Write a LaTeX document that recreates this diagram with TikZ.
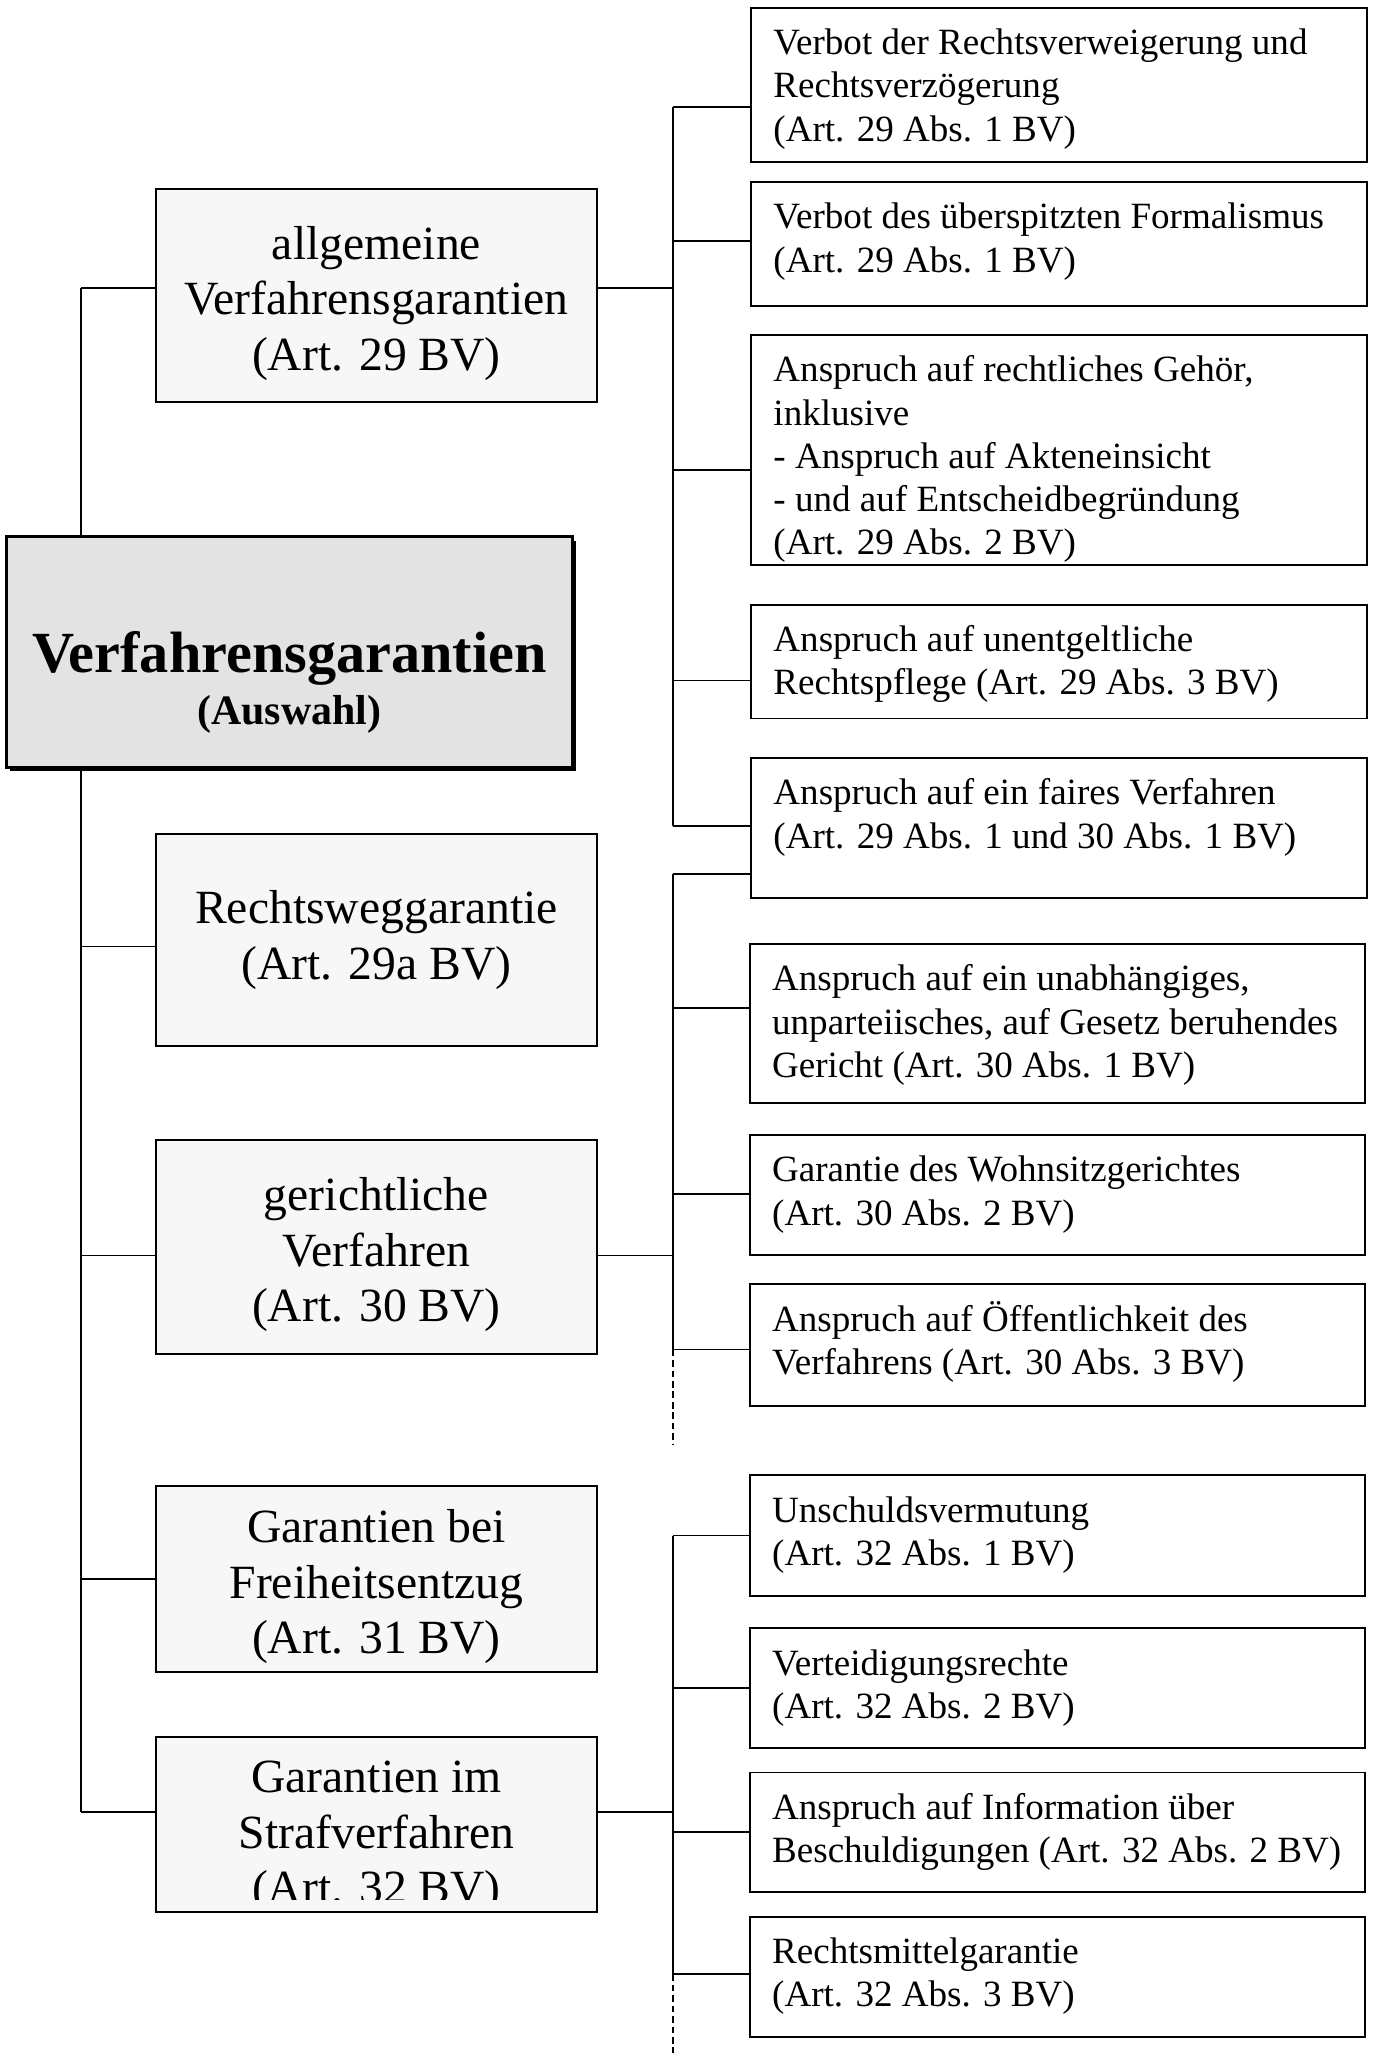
\documentclass[tikz,border=0pt]{standalone}
\usepackage{fontspec}
\setmainfont{Liberation Serif}
\usetikzlibrary{shadows}

\newcommand{\leaftext}[2]{\parbox[t][#1pt][t]{436pt}{\raggedright\rule{0pt}{36pt}#2}}

\tikzset{
  mainbox/.style={draw, line width=2.2pt, fill=black!11, inner sep=0pt,
    drop shadow={shadow xshift=3pt, shadow yshift=-3pt, opacity=1, fill=black}},
  midbox/.style={draw, line width=1.5pt, fill=black!3, inner sep=0pt, align=center,
    minimum width=337pt, font=\fontsize{36.4}{42.3}\selectfont},
  leafbox/.style={draw, line width=1.5pt, anchor=north west, inner xsep=17pt, inner ysep=0pt,
    font=\fontsize{28.3}{33}\selectfont},
  link/.style={line width=1.3pt},
  more/.style={line width=1.3pt, dash pattern=on 5pt off 3pt}
}

\begin{document}
\begin{tikzpicture}[x=1pt, y=-1pt]
\useasboundingbox (0,0) rectangle (1050,1568);

% root
\node[mainbox] (main) at (221,498) {\parbox[c][176pt][t]{432pt}{\centering\rule{0pt}{104pt}{\fontsize{44.5}{50}\bfseries Verfahrensgarantien}\\{\fontsize{32}{39.6}\selectfont\bfseries (Auswahl)\par}}};

% middle column
\node[midbox, minimum height=162.5pt] (allg) at (287.5,225.75) {\rule{0pt}{37pt}allgemeine\\ Verfahrensgarantien\\ (Art. 29 BV)};
\node[midbox, minimum height=162pt] (recht) at (287.5,718) {Rechtsweggarantie\\ (Art. 29a BV)};
\node[midbox, minimum height=163pt] (ger) at (287.5,952.5) {\rule{0pt}{37pt}gerichtliche\\ Verfahren\\ (Art. 30 BV)};
\node[midbox, minimum height=142pt] (frei) at (287.5,1206) {\rule{0pt}{37pt}Garantien bei\\ Freiheitsentzug\\ (Art. 31 BV)};
\node[midbox, minimum height=133pt, path picture={
    \clip (path picture bounding box.north west) rectangle ([yshift=9pt]path picture bounding box.south east);
    \node[anchor=north, inner sep=0pt, align=center, font=\fontsize{36.4}{42.3}\selectfont] (strafText)
      at (path picture bounding box.north) {\rule{0pt}{41.5pt}Garantien im\\ Strafverfahren\\ (Art. 32 BV)};
  }] (straf) at (287.5,1393.5) {};

% right column
\node[leafbox] (v1) at (573,5) {\leaftext{118}{Verbot der Rechtsverweigerung und\\ Rechtsverzögerung\\ (Art. 29 Abs. 1 BV)}};
\node[leafbox] (v2) at (573,138) {\leaftext{95}{Verbot des überspitzten Formalismus\\ (Art. 29 Abs. 1 BV)}};
\node[leafbox] (v3) at (573,255) {\leaftext{176}{Anspruch auf rechtliches Gehör,\\ inklusive\\ - Anspruch auf Akteneinsicht\\ - und auf Entscheidbegründung\\ (Art. 29 Abs. 2 BV)}};
\node[leafbox] (v4) at (573,461) {\leaftext{87}{Anspruch auf unentgeltliche\\ Rechtspflege (Art. 29 Abs. 3 BV)}};
\node[leafbox] (v5) at (573,578) {\leaftext{107}{Anspruch auf ein faires Verfahren\\ (Art. 29 Abs. 1 und 30 Abs. 1 BV)}};
\node[leafbox] (v6) at (572,720) {\leaftext{122}{Anspruch auf ein unabhängiges,\\ unparteiisches, auf Gesetz beruhendes\\ Gericht (Art. 30 Abs. 1 BV)}};
\node[leafbox] (v7) at (572,866) {\leaftext{92}{Garantie des Wohnsitzgerichtes\\ (Art. 30 Abs. 2 BV)}};
\node[leafbox] (v8) at (572,980) {\leaftext{93}{Anspruch auf Öffentlichkeit des\\ Verfahrens (Art. 30 Abs. 3 BV)}};
\node[leafbox] (v9) at (572,1126) {\leaftext{92}{Unschuldsvermutung\\ (Art. 32 Abs. 1 BV)}};
\node[leafbox] (v10) at (572,1243) {\leaftext{91}{Verteidigungsrechte\\ (Art. 32 Abs. 2 BV)}};
\node[leafbox] (v11) at (572,1353) {\leaftext{91}{Anspruch auf Information über\\ Beschuldigungen (Art. 32 Abs. 2 BV)}};
\node[leafbox] (v12) at (572,1463) {\leaftext{92}{Rechtsmittelgarantie\\ (Art. 32 Abs. 3 BV)}};

% attachment points
\coordinate (trunk) at (62,0);
\coordinate (bus) at (514,0);
\coordinate (m1) at ([yshift=6pt]allg.west);
\coordinate (m2) at ([yshift=-5pt]recht.west);
\coordinate (m3) at ([yshift=-6.5pt]ger.west);
\coordinate (m4) at (frei.west);
\coordinate (m5) at ([yshift=9.5pt]straf.west);
\coordinate (c1) at ([yshift=-17pt]v1.west);
\coordinate (c2) at ([yshift=2pt]v2.west);
\coordinate (c3) at ([yshift=-15pt]v3.west);
\coordinate (c4) at ([yshift=-14.5pt]v4.west);
\coordinate (c5) at ([yshift=1.5pt]v5.west);
\coordinate (d5) at ([yshift=-35.5pt]v5.west);
\coordinate (c6) at ([yshift=12pt]v6.west);
\coordinate (c7) at ([yshift=1pt]v7.west);
\coordinate (c8) at ([yshift=-3.5pt]v8.west);
\coordinate (c9) at (v9.west);
\coordinate (c10) at (v10.west);
\coordinate (c11) at (v11.west);
\coordinate (c12) at ([yshift=2pt]v12.west);
\coordinate (cut1) at (514,1103);
\coordinate (cut2) at (514,1568);

% trunk
\draw[link] (m1 -| trunk) -- (main.north -| trunk);
\draw[link] (main.south -| trunk) -- (m5 -| trunk);
\foreach \m in {m1,m2,m3,m4,m5}
  \draw[link] (\m -| trunk) -- (\m);

% buses
\draw[link] (allg.east |- m1) -- (m1 -| bus);
\draw[link] (ger.east |- m3) -- (m3 -| bus);
\draw[link] (straf.east |- m5) -- (m5 -| bus);
\draw[link] (c1 -| bus) -- (c5 -| bus);
\draw[link] (d5 -| bus) -- (c8 -| bus);
\draw[more] (c8 -| bus) -- (cut1);
\draw[link] (c9 -| bus) -- (c12 -| bus);
\draw[more] (c12 -| bus) -- (cut2);
\foreach \c in {c1,c2,c3,c4,c5,d5,c6,c7,c8,c9,c10,c11,c12}
  \draw[link] (\c -| bus) -- (\c);
\end{tikzpicture}
\end{document}
